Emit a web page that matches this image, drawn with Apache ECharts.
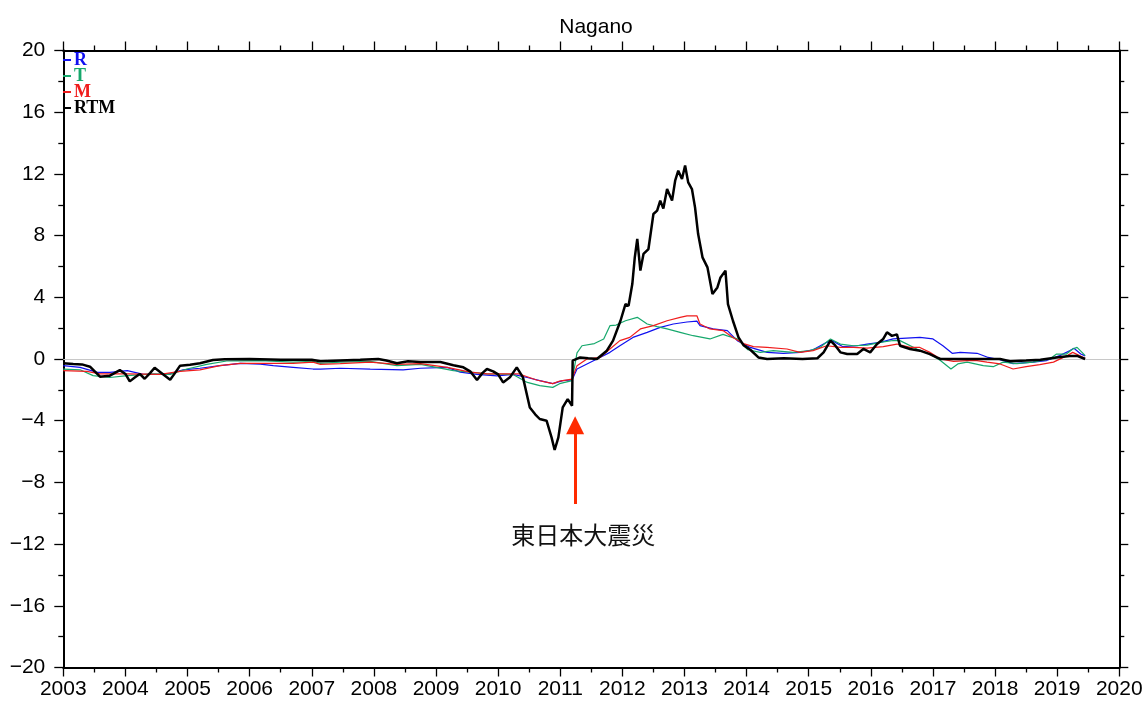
<!DOCTYPE html>
<html>
<head>
<meta charset="utf-8">
<script src="https://cdn.jsdelivr.net/npm/echarts@6/dist/echarts.min.js"></script>
<style>
html,body{margin:0;padding:0;background:#fff;}
#chart{width:1146px;height:702px;}
</style>
</head>
<body>
<div id="chart"></div>
<script>
const chartTitle = "Nagano";
const seriesNames = ["R", "T", "M", "RTM"];
const yTicks = [-20, -16, -12, -8, -4, 0, 4, 8, 12, 16, 20];
const xYears = [2003, 2004, 2005, 2006, 2007, 2008, 2009, 2010, 2011, 2012, 2013, 2014, 2015, 2016, 2017, 2018, 2019, 2020];
const annotationText = "東日本大震災";
const quakeYear = 2011.24;

const rX = [2003.0,2003.27,2003.55,2003.75,2004.03,2004.29,2004.56,2004.72,2004.93,2005.2,2005.52,2005.85,2006.17,2006.38,2006.7,2007.02,2007.14,2007.46,2007.94,2008.47,2008.75,2009.18,2009.39,2009.66,2009.98,2010.24,2010.47,2010.67,2010.88,2011.04,2011.19,2011.27,2011.43,2011.64,2011.8,2011.96,2012.17,2012.4,2012.61,2012.82,2013.04,2013.2,2013.25,2013.46,2013.69,2013.85,2014.06,2014.33,2014.59,2014.86,2015.07,2015.29,2015.38,2015.55,2015.78,2015.94,2016.15,2016.36,2016.79,2017.0,2017.16,2017.31,2017.44,2017.71,2017.89,2018.08,2018.29,2018.61,2018.83,2019.04,2019.2,2019.27,2019.38,2019.45];
const rY = [-0.43,-0.54,-0.87,-0.87,-0.75,-1.0,-1.0,-0.95,-0.7,-0.6,-0.43,-0.28,-0.33,-0.43,-0.54,-0.65,-0.65,-0.6,-0.65,-0.7,-0.6,-0.54,-0.85,-1.0,-1.1,-1.0,-1.2,-1.4,-1.6,-1.4,-1.36,-0.65,-0.32,0.1,0.43,0.86,1.4,1.73,2.05,2.27,2.4,2.45,2.16,1.95,1.84,1.19,0.75,0.43,0.37,0.43,0.6,1.08,1.19,0.8,0.86,0.97,1.08,1.3,1.4,1.3,0.86,0.37,0.43,0.37,0.1,-0.05,-0.3,-0.2,-0.1,0.22,0.54,0.7,0.32,0.2];

const tX = [2003.0,2003.27,2003.48,2003.75,2004.03,2004.45,2004.72,2004.99,2005.31,2005.63,2006.17,2006.7,2007.02,2007.14,2007.46,2007.94,2008.37,2008.75,2009.28,2009.55,2009.82,2010.24,2010.47,2010.67,2010.88,2010.99,2011.19,2011.27,2011.35,2011.55,2011.7,2011.8,2011.9,2012.05,2012.24,2012.4,2012.56,2012.72,2012.93,2013.14,2013.41,2013.62,2013.69,2013.85,2014.02,2014.22,2014.43,2014.75,2015.02,2015.18,2015.35,2015.51,2015.72,2015.94,2016.15,2016.36,2016.47,2016.74,2016.95,2017.12,2017.29,2017.4,2017.55,2017.81,2017.97,2018.13,2018.35,2018.61,2018.88,2018.99,2019.15,2019.25,2019.32,2019.4,2019.45];
const tY = [-0.65,-0.7,-1.08,-1.2,-1.08,-0.97,-1.0,-0.65,-0.35,-0.13,-0.1,-0.2,-0.15,-0.28,-0.2,-0.15,-0.43,-0.35,-0.75,-0.85,-0.97,-1.0,-1.52,-1.73,-1.84,-1.6,-1.4,0.4,0.86,1.0,1.3,2.16,2.2,2.48,2.7,2.27,2.1,1.95,1.73,1.51,1.3,1.6,1.5,1.3,0.6,0.43,0.54,0.43,0.54,0.75,1.3,0.97,0.86,0.9,1.08,1.2,1.19,0.65,0.32,-0.1,-0.65,-0.32,-0.2,-0.43,-0.5,-0.2,-0.3,-0.2,0.0,0.32,0.32,0.65,0.75,0.43,0.22];

const mX = [2003.0,2003.38,2003.59,2004.03,2004.56,2004.88,2005.2,2005.52,2005.85,2006.17,2006.7,2007.02,2007.14,2007.46,2007.94,2008.37,2008.75,2009.18,2009.55,2009.82,2010.13,2010.34,2010.62,2010.88,2010.99,2011.19,2011.27,2011.43,2011.64,2011.8,2011.96,2012.12,2012.29,2012.5,2012.72,2012.93,2013.04,2013.2,2013.25,2013.41,2013.62,2013.78,2013.95,2014.11,2014.33,2014.65,2014.86,2015.07,2015.29,2015.51,2015.72,2015.94,2016.2,2016.42,2016.63,2016.79,2016.95,2017.12,2017.33,2017.55,2017.71,2017.87,2018.08,2018.29,2018.5,2018.72,2018.94,2019.15,2019.25,2019.36,2019.45];
const mY = [-0.76,-0.8,-0.97,-0.97,-1.0,-0.8,-0.7,-0.43,-0.28,-0.28,-0.28,-0.2,-0.35,-0.3,-0.2,-0.35,-0.3,-0.54,-0.85,-0.97,-0.97,-0.97,-1.36,-1.6,-1.43,-1.3,-0.43,0.0,0.1,0.65,1.19,1.4,1.95,2.16,2.48,2.7,2.8,2.8,2.27,1.95,1.84,1.4,1.0,0.8,0.75,0.65,0.43,0.54,0.86,0.75,0.75,0.7,0.8,0.97,0.75,0.75,0.43,0.0,-0.15,-0.1,-0.1,-0.2,-0.32,-0.65,-0.5,-0.37,-0.2,0.2,0.43,0.22,0.05];

const rtmX = [2003.0,2003.16,2003.3,2003.43,2003.59,2003.75,2003.91,2004.0,2004.07,2004.15,2004.23,2004.31,2004.4,2004.47,2004.6,2004.72,2004.8,2004.88,2005.04,2005.2,2005.41,2005.6,2006.0,2006.5,2007.0,2007.14,2007.46,2007.78,2008.07,2008.2,2008.37,2008.55,2008.75,2009.07,2009.28,2009.44,2009.55,2009.66,2009.75,2009.82,2009.92,2010.0,2010.08,2010.19,2010.3,2010.4,2010.51,2010.6,2010.67,2010.78,2010.86,2010.91,2010.97,2011.04,2011.12,2011.19,2011.2,2011.32,2011.45,2011.59,2011.75,2011.85,2011.97,2012.05,2012.1,2012.16,2012.2,2012.24,2012.29,2012.34,2012.42,2012.5,2012.56,2012.61,2012.66,2012.72,2012.8,2012.85,2012.9,2012.96,2013.01,2013.06,2013.12,2013.17,2013.22,2013.29,2013.37,2013.45,2013.53,2013.58,2013.66,2013.7,2013.78,2013.87,2013.95,2014.06,2014.19,2014.33,2014.6,2014.9,2015.14,2015.24,2015.35,2015.43,2015.51,2015.62,2015.78,2015.88,2015.99,2016.1,2016.2,2016.26,2016.34,2016.42,2016.47,2016.63,2016.79,2016.95,2017.06,2017.12,2017.5,2018.08,2018.24,2018.5,2018.73,2018.99,2019.2,2019.32,2019.45];
const rtmY = [-0.28,-0.33,-0.35,-0.5,-1.15,-1.08,-0.72,-0.97,-1.45,-1.2,-0.97,-1.28,-0.9,-0.57,-0.97,-1.35,-0.9,-0.43,-0.37,-0.28,-0.07,-0.02,0.0,-0.05,-0.05,-0.15,-0.1,-0.05,0.0,-0.1,-0.28,-0.15,-0.2,-0.2,-0.4,-0.54,-0.8,-1.36,-0.9,-0.65,-0.8,-1.0,-1.52,-1.19,-0.54,-1.19,-3.14,-3.6,-3.89,-4.0,-5.08,-5.9,-5.08,-3.14,-2.6,-3.03,-0.1,0.1,0.05,0.0,0.54,1.19,2.48,3.56,3.45,4.86,6.59,7.78,5.73,6.81,7.13,9.4,9.62,10.27,9.75,11.02,10.27,11.56,12.21,11.67,12.54,11.45,11.02,9.83,8.1,6.59,5.94,4.21,4.64,5.29,5.73,3.56,2.48,1.4,0.9,0.6,0.1,0.0,0.05,0.0,0.05,0.43,1.19,0.86,0.43,0.32,0.32,0.65,0.43,0.97,1.3,1.73,1.5,1.6,0.86,0.65,0.54,0.32,0.1,0.0,0.0,0.0,-0.15,-0.1,-0.05,0.1,0.2,0.2,0.0];

const colors = {R: "#1010f0", T: "#16a86c", M: "#f01c1c", RTM: "#000000"};

function pairs(xs, ys) { return xs.map((x, i) => [x, ys[i]]); }

const fontSans = "'Liberation Sans', Arial, Helvetica, sans-serif";
const minus = v => String(v).replace('-', '\u2212');

const chart = echarts.init(document.getElementById('chart'), null, {renderer: 'canvas'});

function axisCommon(extra) {
  return Object.assign({
    axisLine: {show: true, onZero: false, lineStyle: {color: '#000', width: 2}},
    axisTick: {show: true, inside: false, length: 9, lineStyle: {color: '#000', width: 1.3}},
    minorTick: {show: true, splitNumber: 2, length: 5, lineStyle: {color: '#000', width: 1.3}},
    splitLine: {show: false},
    minorSplitLine: {show: false}
  }, extra);
}

const option = {
  animation: false,
  backgroundColor: '#fff',
  title: {
    text: chartTitle, left: 591, top: 12, textAlign: 'center',
    textStyle: {fontFamily: fontSans, fontSize: 21, fontWeight: 'normal', color: '#000'}
  },
  legend: {
    orient: 'vertical', left: 63, top: 51, itemGap: -2, itemWidth: 8, itemHeight: 2,
    icon: 'rect', selectedMode: false, padding: 0,
    textStyle: {fontFamily: "'Liberation Serif', 'Times New Roman', serif", fontWeight: 'bold', fontSize: 18, lineHeight: 15.5, padding: [0,0,0,-2]},
    data: seriesNames.map(n => ({name: n, textStyle: {color: colors[n]}}))
  },
  grid: {left: 63.3, right: 26.7, top: 50.5, bottom: 34.5, containLabel: false},
  xAxis: [
    axisCommon({
      type: 'value', min: xYears[0], max: xYears[xYears.length - 1], interval: 1, position: 'bottom',
      axisLabel: {show: true, margin: 11, fontFamily: fontSans, fontSize: 21, color: '#000', formatter: v => String(v)}
    }),
    axisCommon({
      type: 'value', min: xYears[0], max: xYears[xYears.length - 1], interval: 1, position: 'top',
      axisLabel: {show: false}
    })
  ],
  yAxis: [
    axisCommon({
      type: 'value', min: yTicks[0], max: yTicks[yTicks.length - 1], interval: 4, position: 'left',
      axisLabel: {show: true, margin: 18, fontFamily: fontSans, fontSize: 21, color: '#000', formatter: v => minus(v)}
    }),
    axisCommon({
      type: 'value', min: yTicks[0], max: yTicks[yTicks.length - 1], interval: 4, position: 'right',
      axisLabel: {show: false}
    })
  ],
  series: [
    {
      name: 'R', type: 'line', data: pairs(rX, rY), showSymbol: false, symbol: 'none',
      lineStyle: {color: colors.R, width: 1.2}, itemStyle: {color: colors.R}, z: 3,
      markLine: {
        silent: true, symbol: ['none', 'none'], label: {show: false},
        lineStyle: {color: '#c8c8c8', width: 1, type: 'solid'},
        data: [{yAxis: 0}], z: 1
      }
    },
    {
      name: 'T', type: 'line', data: pairs(tX, tY), showSymbol: false, symbol: 'none',
      lineStyle: {color: colors.T, width: 1.2}, itemStyle: {color: colors.T}, z: 3
    },
    {
      name: 'M', type: 'line', data: pairs(mX, mY), showSymbol: false, symbol: 'none',
      lineStyle: {color: colors.M, width: 1.2}, itemStyle: {color: colors.M}, z: 3,
      markLine: {
        silent: true, symbol: ['none', 'triangle'], symbolSize: 18, label: {show: false},
        itemStyle: {color: '#ff2a00'},
        lineStyle: {color: '#ff2a00', width: 3, type: 'solid'},
        data: [[{coord: [quakeYear, -9.4]}, {coord: [quakeYear, -4.3]}]]
      },
      markPoint: {
        silent: true, symbol: 'circle', symbolSize: 0,
        label: {show: true, position: 'inside', formatter: annotationText,
          fontFamily: "'Noto Sans CJK JP', 'Noto Sans CJK SC', sans-serif", fontSize: 24, color: '#111'},
        data: [{coord: [2011.37, -11.4]}]
      }
    },
    {
      name: 'RTM', type: 'line', data: pairs(rtmX, rtmY), showSymbol: false, symbol: 'none',
      lineStyle: {color: colors.RTM, width: 2.5}, itemStyle: {color: colors.RTM}, z: 4
    }
  ]
};
chart.setOption(option);
</script>
</body>
</html>
